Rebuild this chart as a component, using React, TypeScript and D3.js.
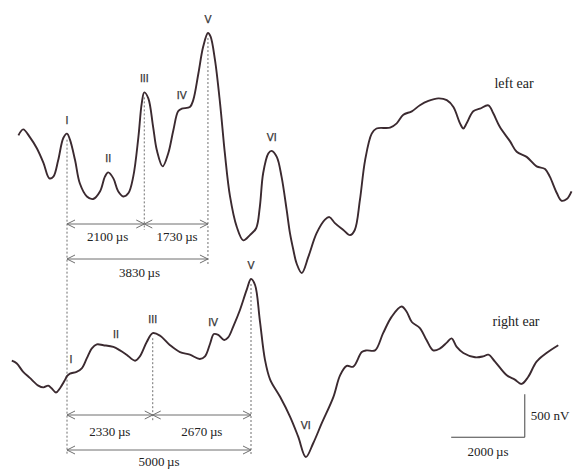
import React from 'react';
import * as d3 from 'd3';

// Averaged auditory brainstem responses: [time (µs), amplitude (nV)]
const leftEar: [number, number][] = [
  [180, 170], [310, 240], [490, 150], [680, 20], [860, -150], [1020, -330], [1130, -310],
  [1260, -120], [1400, 140], [1500, 190], [1580, 120], [1720, -120], [1850, -390],
  [2040, -540], [2210, -570], [2400, -480], [2530, -310], [2620, -260], [2760, -330],
  [2890, -480], [3030, -540], [3170, -500], [3300, -310], [3440, 150], [3530, 540],
  [3600, 670], [3710, 600], [3840, 270], [3940, 0], [4100, -190], [4250, -40], [4390, 230],
  [4520, 450], [4620, 480], [4840, 500], [4930, 580], [5070, 890], [5200, 1200],
  [5330, 1360], [5400, 1320], [5520, 1050], [5660, 540], [5790, -40], [5930, -540],
  [6110, -890], [6290, -1050], [6470, -990], [6640, -910], [6740, -660], [6830, -270],
  [6970, -40], [7060, -10], [7200, -80], [7330, -310], [7470, -700], [7560, -970],
  [7650, -1160], [7740, -1320], [7880, -1430], [8060, -1240], [8280, -970], [8510, -810],
  [8630, -780], [8780, -850], [9010, -930], [9190, -990], [9320, -930], [9460, -580],
  [9600, -120], [9780, 190], [9910, 250], [10280, 260], [10460, 310], [10640, 410],
  [10870, 450], [11090, 520], [11320, 570], [11590, 600], [11820, 580], [12000, 500],
  [12180, 310], [12270, 250], [12360, 310], [12540, 450], [12720, 480], [12950, 520],
  [13080, 430], [13260, 270], [13540, 100], [13720, -20], [13990, -80], [14260, -190],
  [14490, -220], [14620, -310], [14810, -500], [14940, -590], [15080, -570], [15210, -480],
];

const rightEar: [number, number][] = [
  [0, 50], [130, 20], [310, -80], [490, -150], [720, -240], [860, -260], [990, -240],
  [1080, -270], [1200, -320], [1310, -270], [1450, -170], [1500, -130], [1580, -100],
  [1760, -80], [1900, -40], [2040, 80], [2170, 190], [2310, 240], [2490, 230], [2760, 210],
  [2940, 170], [3120, 120], [3350, 50], [3480, 100], [3670, 270], [3830, 370], [4030, 340],
  [4300, 230], [4570, 150], [4840, 120], [5110, 70], [5250, 100], [5390, 250], [5490, 360],
  [5610, 350], [5770, 290], [5880, 320], [6020, 450], [6200, 640], [6380, 870], [6500, 1000],
  [6610, 930], [6740, 520], [6880, 60], [7020, -170], [7290, -370], [7560, -600],
  [7780, -830], [7990, -1070], [8190, -910], [8420, -680], [8740, -370], [8920, -120],
  [9100, -10], [9280, -20], [9510, 150], [9640, 170], [9870, 170], [10090, 370],
  [10320, 560], [10590, 680], [10730, 620], [10870, 500], [11090, 430], [11270, 290],
  [11450, 170], [11630, 190], [11820, 260], [11950, 310], [12090, 210], [12270, 140],
  [12590, 90], [12810, 100], [12950, 120], [13130, 40], [13450, -120], [13670, -170],
  [13850, -220], [14030, -140], [14260, 40], [14530, 140], [14850, 230],
];

// Wave labels and the latency (µs) at which each one is written
const leftWaves = [
  { name: 'I', t: 1500 }, { name: 'II', t: 2620 }, { name: 'III', t: 3600 },
  { name: 'IV', t: 4620 }, { name: 'V', t: 5330 }, { name: 'VI', t: 7060 },
];
const rightWaves = [
  { name: 'I', t: 1610 }, { name: 'II', t: 2830 }, { name: 'III', t: 3830 },
  { name: 'IV', t: 5470 }, { name: 'V', t: 6500 }, { name: 'VI', t: 7990 },
];

// Peak latencies (µs) used for the interpeak measurements
const leftLatency = { I: 1500, III: 3600, V: 5330 };
const rightLatency = { I: 1500, III: 3830, V: 6500 };

const earNames = ['left ear', 'right ear'];
const scaleBar = { time: 2000, amplitude: 500, atTime: 13940, atAmp: -840 };

const W = 573;
const H = 469;
const INK = '#3b2a30';
const GUIDE = '#6f6f6f';

const x = d3.scaleLinear().domain([0, 1000]).range([11.8, 11.8 + 36.8]);
const yLeft = d3.scaleLinear().domain([0, 500]).range([150, 150 - 43]);
const yRight = d3.scaleLinear().domain([0, 500]).range([365, 365 - 43]);

const bis = d3.bisector((d: [number, number]) => d[0]).left;
function ampAt(s: [number, number][], t: number) {
  const i = Math.max(1, Math.min(s.length - 1, bis(s, t)));
  const a = s[i - 1], b = s[i];
  const k = (t - a[0]) / (b[0] - a[0]);
  return a[1] + (b[1] - a[1]) * k;
}

function trace(s: [number, number][], y: d3.ScaleLinear<number, number>) {
  return d3.line<[number, number]>()
    .x(d => x(d[0]))
    .y(d => y(d[1]))
    .curve(d3.curveCatmullRom.alpha(0.5))(s) as string;
}

function DoubleArrow({ x1, x2, y }: { x1: number; x2: number; y: number }) {
  const L = 8, h = 4;
  return (
    <g stroke={GUIDE} strokeWidth={1} fill="none">
      <line x1={x1} x2={x2} y1={y} y2={y} />
      <polyline points={`${x1 + L},${y - h} ${x1},${y} ${x1 + L},${y + h}`} />
      <polyline points={`${x2 - L},${y - h} ${x2},${y} ${x2 - L},${y + h}`} />
    </g>
  );
}

function Dashed({ xv, y1, y2 }: { xv: number; y1: number; y2: number }) {
  return <line x1={xv} x2={xv} y1={y1} y2={y2} stroke={GUIDE} strokeWidth={1} strokeDasharray="2,2" />;
}

const serif = '"Liberation Serif", "Times New Roman", serif';
const sans = '"Liberation Sans", Arial, sans-serif';

function WaveLabels({ waves, s, y, drop }: { waves: { name: string; t: number }[]; s: [number, number][]; y: d3.ScaleLinear<number, number>; drop?: string }) {
  return (
    <g fontFamily={sans} fontSize={10.5} fill="#333" stroke="#333" strokeWidth={0.25} textAnchor="middle">
      {waves.map(w => {
        const yy = y(ampAt(s, w.t));
        const off = w.name === drop ? -28 : -10;
        return <text key={w.name} x={x(w.t)} y={yy + off}>{w.name}</text>;
      })}
    </g>
  );
}

export default function App() {
  const lI = x(leftLatency.I), lIII = x(leftLatency.III), lV = x(leftLatency.V);
  const rI = x(rightLatency.I), rIII = x(rightLatency.III), rV = x(rightLatency.V);
  const rowL1 = 224, rowL2 = 259, rowR1 = 415, rowR2 = 450;
  const us = (v: number) => `${v}\u2009µs`;
  const barX = x(scaleBar.atTime);
  const barY = yRight(scaleBar.atAmp);

  return (
    <svg width={W} height={H} style={{ position: 'absolute', left: 0, top: 0, background: '#fff' }}>
      {/* measurement guides */}
      <Dashed xv={lI} y1={yLeft(ampAt(leftEar, leftLatency.I)) + 6} y2={rowR2 + 4} />
      <Dashed xv={lIII} y1={yLeft(ampAt(leftEar, leftLatency.III)) + 5} y2={rowL1 + 6} />
      <Dashed xv={lV} y1={yLeft(ampAt(leftEar, leftLatency.V)) + 5} y2={rowL2 + 5} />
      <Dashed xv={rIII} y1={yRight(ampAt(rightEar, rightLatency.III)) + 5} y2={rowR1 + 7} />
      <Dashed xv={rV} y1={yRight(ampAt(rightEar, rightLatency.V)) + 5} y2={rowR2 + 5} />

      <DoubleArrow x1={lI} x2={lIII} y={rowL1} />
      <DoubleArrow x1={lIII} x2={lV} y={rowL1} />
      <DoubleArrow x1={lI} x2={lV} y={rowL2} />
      <DoubleArrow x1={rI} x2={rIII} y={rowR1} />
      <DoubleArrow x1={rIII} x2={rV} y={rowR1} />
      <DoubleArrow x1={rI} x2={rV} y={rowR2} />

      <g fontFamily={serif} fontSize={13} fill="#222" textAnchor="middle">
        <text x={(lI + lIII) / 2 + 2} y={rowL1 + 17}>{us(leftLatency.III - leftLatency.I)}</text>
        <text x={(lIII + lV) / 2 + 1} y={rowL1 + 17}>{us(leftLatency.V - leftLatency.III)}</text>
        <text x={(lI + lV) / 2 + 2} y={rowL2 + 18}>{us(leftLatency.V - leftLatency.I)}</text>
        <text x={(rI + rIII) / 2} y={rowR1 + 21}>{us(rightLatency.III - rightLatency.I)}</text>
        <text x={(rIII + rV) / 2} y={rowR1 + 21}>{us(rightLatency.V - rightLatency.III)}</text>
        <text x={(rI + rV) / 2} y={rowR2 + 16}>{us(rightLatency.V - rightLatency.I)}</text>
      </g>

      {/* waveforms */}
      <path d={trace(leftEar, yLeft)} fill="none" stroke={INK} strokeWidth={1.9} strokeLinejoin="round" />
      <path d={trace(rightEar, yRight)} fill="none" stroke={INK} strokeWidth={1.9} strokeLinejoin="round" />

      <WaveLabels waves={leftWaves} s={leftEar} y={yLeft} />
      <WaveLabels waves={rightWaves} s={rightEar} y={yRight} drop="VI" />

      <g fontFamily={serif} fontSize={14} fill="#222" textAnchor="middle">
        <text x={514} y={88}>{earNames[0]}</text>
        <text x={516} y={326}>{earNames[1]}</text>
      </g>

      {/* calibration bar */}
      <g stroke="#444" strokeWidth={1} fill="none">
        <line x1={x(scaleBar.atTime - scaleBar.time)} x2={barX} y1={barY} y2={barY} />
        <line x1={barX} x2={barX} y1={barY} y2={yRight(scaleBar.atAmp + scaleBar.amplitude)} />
      </g>
      <g fontFamily={serif} fontSize={13} fill="#222">
        <text x={barX + 6} y={420}>{`${scaleBar.amplitude} nV`}</text>
        <text x={(x(scaleBar.atTime - scaleBar.time) + barX) / 2} y={456} textAnchor="middle">{us(scaleBar.time)}</text>
      </g>
    </svg>
  );
}
